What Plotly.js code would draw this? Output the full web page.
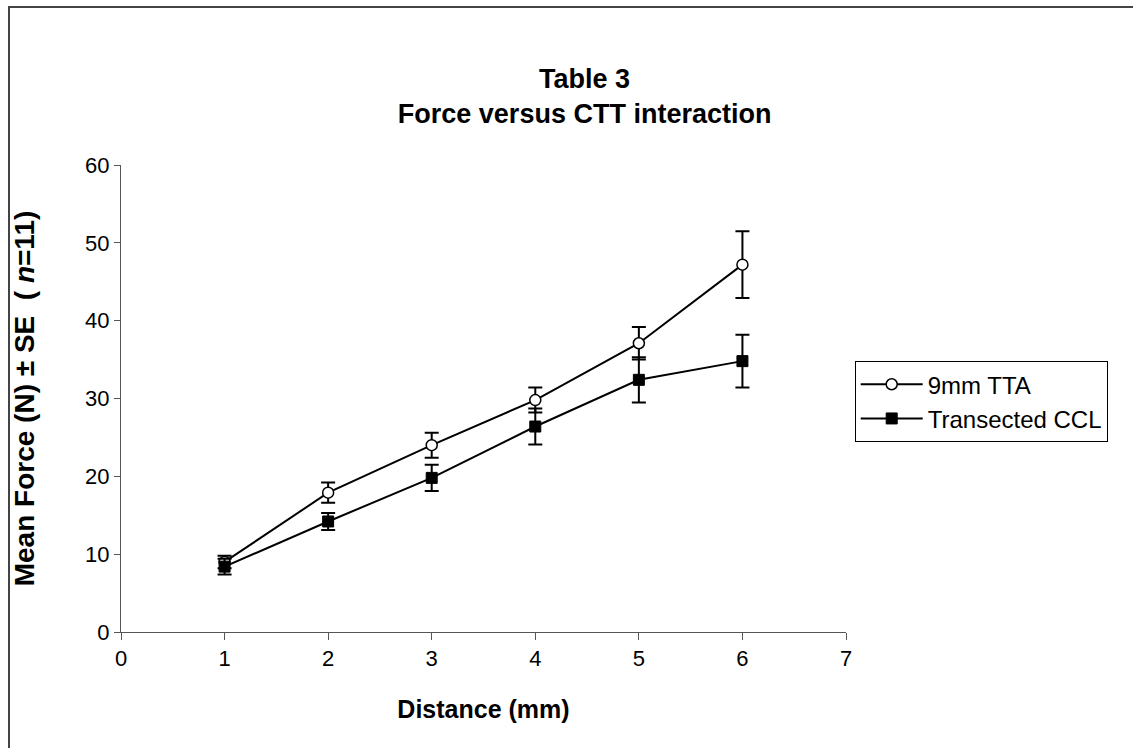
<!DOCTYPE html>
<html>
<head>
<meta charset="utf-8">
<script src="https://cdn.plot.ly/plotly-3.0.1.min.js"></script>
<style>
  html, body { margin: 0; padding: 0; background: #fff; }
  #frame { position: absolute; left: 8px; top: 6px; width: 1200px; height: 800px;
           border-left: 2px solid #444; border-top: 2px solid #444; }
  #chart { position: absolute; left: 0; top: 0; width: 1133px; height: 748px; }
</style>
</head>
<body>
<div id="frame"></div>
<div id="chart"></div>
<script>
// Data
const distance = [1, 2, 3, 4, 5, 6];
const ttaMean = [9.0, 17.9, 24.0, 29.8, 37.1, 47.2];
const ttaSE   = [0.8, 1.3, 1.6, 1.6, 2.1, 4.3];
const cclMean = [8.4, 14.2, 19.8, 26.4, 32.4, 34.8];
const cclSE   = [1.0, 1.1, 1.7, 2.3, 2.9, 3.4];
const seriesNames = ["9mm TTA", "Transected CCL"];
const xTicks = [0, 1, 2, 3, 4, 5, 6, 7];
const yTicks = [0, 10, 20, 30, 40, 50, 60];

const FONT = "Liberation Sans, Arial, sans-serif";

const traces = [
  {
    x: distance, y: ttaMean, name: seriesNames[0], type: "scatter", mode: "lines+markers",
    line: { color: "#000", width: 2 },
    marker: { symbol: "circle", size: 11, color: "#fff", line: { color: "#000", width: 1.5 } },
    error_y: { type: "data", array: ttaSE, visible: true, color: "#000", thickness: 2, width: 7 }
  },
  {
    x: distance, y: cclMean, name: seriesNames[1], type: "scatter", mode: "lines+markers",
    line: { color: "#000", width: 2 },
    marker: { symbol: "square", size: 11, color: "#000", line: { color: "#000", width: 1 } },
    error_y: { type: "data", array: cclSE, visible: true, color: "#000", thickness: 2, width: 7 }
  }
];

const layout = {
  width: 1133, height: 748,
  paper_bgcolor: "rgba(0,0,0,0)", plot_bgcolor: "#fff",
  margin: { l: 121, r: 287, t: 165, b: 116 },
  font: { family: FONT, color: "#000", size: 22 },
  title: {
    text: "<b>Table 3<br>Force versus CTT interaction</b>",
    font: { family: FONT, size: 27, color: "#000" },
    xref: "container", x: 0.516, xanchor: "center",
    yref: "container", y: 0.883, yanchor: "middle"
  },
  xaxis: {
    range: [0, 7], tickvals: xTicks, ticktext: xTicks.map(String),
    ticks: "outside", ticklen: 7, tickwidth: 1, tickcolor: "#555",
    showline: true, linecolor: "#555", linewidth: 1,
    showgrid: false, zeroline: false,
    tickfont: { family: FONT, size: 22 },
    title: { text: "<b>Distance (mm)</b>", font: { family: FONT, size: 25 }, standoff: 30 }
  },
  yaxis: {
    range: [0, 60], tickvals: yTicks, ticktext: yTicks.map(String),
    ticks: "outside", ticklen: 6, tickwidth: 1, tickcolor: "#555",
    showline: true, linecolor: "#555", linewidth: 1,
    showgrid: false, zeroline: false,
    tickfont: { family: FONT, size: 22 },
    title: { text: "<b>Mean Force (N) ± SE  ( <i>n</i>=11)</b>", font: { family: FONT, size: 28 }, standoff: 42 }
  },
  showlegend: true,
  legend: {
    x: 1.012, xanchor: "left", y: 0.58, yanchor: "top",
    bgcolor: "#fff", bordercolor: "#000", borderwidth: 1,
    font: { family: FONT, size: 24, color: "#000" },
    itemwidth: 62,
    tracegroupgap: 0
  }
};

Plotly.newPlot("chart", traces, layout, { displayModeBar: false, staticPlot: true });
</script>
</body>
</html>
